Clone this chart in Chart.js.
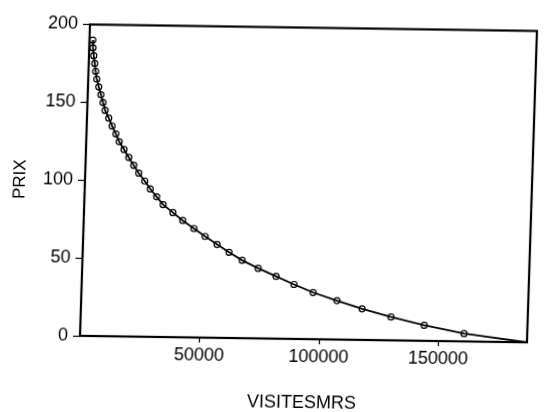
<!DOCTYPE html>
<html>
<head>
<meta charset="utf-8">
<script src="https://cdn.jsdelivr.net/npm/chart.js@4"></script>
<style>
  html, body { margin: 0; padding: 0; background: #fff; }
  #wrap { position: relative; width: 544px; height: 412px; overflow: hidden; }
  /* the scan is slightly skewed, so the canvas is too */
  #chart { position: absolute; left: 0; top: 0; transform-origin: 0 0;
           transform: matrix(1, 0.01454, -0.0321, 1, 10.79, -1.163); }
</style>
</head>
<body>
<div id="wrap"><canvas id="chart" width="544" height="412"></canvas></div>
<script>
// demand curve: price steps of 5
const prix = [190, 185, 180, 175, 170, 165, 160, 155, 150, 145, 140, 135, 130, 125, 120,
              115, 110, 105, 100, 95, 90, 85, 80, 75, 70, 65, 60, 55, 50, 45, 40, 35, 30,
              25, 20, 15, 10, 5, 0];
const visites = [1400, 1600, 2000, 2500, 3000, 3600, 4500, 5500, 6500, 7500, 9100, 10600,
                 12300, 13800, 15900, 18000, 20200, 22400, 25000, 27400, 30200, 33000, 37200,
                 41400, 46200, 51000, 56100, 61200, 66800, 73600, 81200, 88800, 96900, 107000,
                 117600, 129800, 143800, 160600, 186800];
const xTicks = [50000, 100000, 150000];
const yTicks = [0, 50, 100, 150, 200];
const xTitle = 'VISITESMRS';
const yTitle = 'PRIX';

const fam = 'Liberation Sans, Arial, sans-serif';
const tickFont = { family: fam, size: 18 };

// box around the plot area
const frame = {
    id: 'frame',
    afterDraw(chart) {
        const a = chart.chartArea;
        const ctx = chart.ctx;
        ctx.save();
        ctx.strokeStyle = '#000';
        ctx.lineWidth = 2.2;
        ctx.strokeRect(a.left, a.top, a.right - a.left, a.bottom - a.top);
        ctx.restore();
    }
};

new Chart(document.getElementById('chart'), {
    type: 'line',
    data: {
        datasets: [{
            data: visites.map((v, i) => ({ x: v, y: prix[i] })),
            borderColor: '#000',
            borderWidth: 1.8,
            tension: 0,
            pointStyle: 'circle',
            pointRadius: prix.map(p => p === 0 ? 0 : 3),
            pointBorderColor: '#000',
            pointBorderWidth: 1.2,
            pointBackgroundColor: 'rgba(255,255,255,0)'
        }]
    },
    options: {
        responsive: false,
        animation: false,
        layout: { padding: { top: 24.5, right: 17, left: 0, bottom: 0 } },
        plugins: { legend: { display: false }, tooltip: { enabled: false } },
        scales: {
            x: {
                type: 'linear',
                min: 0,
                max: 187000,
                afterBuildTicks: s => { s.ticks = xTicks.map(v => ({ value: v })); },
                afterFit: s => { s.height = 76; },
                grid: { drawOnChartArea: false, color: '#000', tickLength: 5, tickWidth: 1.2 },
                border: { display: false },
                ticks: { color: '#000', font: tickFont, padding: 2.5, maxRotation: 0, callback: v => String(v) },
                title: { display: true, text: xTitle, color: '#000', font: { family: fam, size: 18 },
                         padding: { top: 0, bottom: 1.4 } }
            },
            y: {
                type: 'linear',
                min: 0,
                max: 200,
                afterBuildTicks: s => { s.ticks = yTicks.map(v => ({ value: v })); },
                afterFit: s => { s.width = 80; },
                grid: { drawOnChartArea: false, color: '#000', tickLength: 7, tickWidth: 1.2 },
                border: { display: false },
                ticks: { color: '#000', font: tickFont, padding: 5 },
                title: { display: true, text: yTitle, color: '#000', font: { family: fam, size: 17 },
                         padding: { top: 5, bottom: 0 } }
            }
        }
    },
    plugins: [frame]
});
</script>
</body>
</html>
